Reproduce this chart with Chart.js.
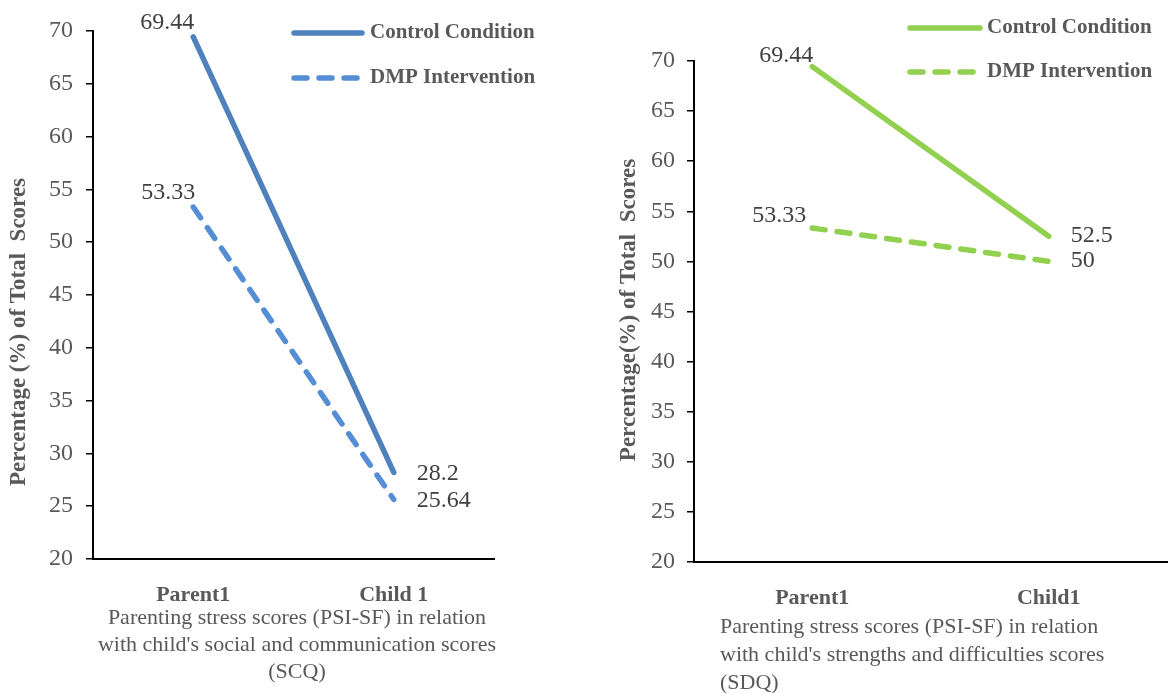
<!DOCTYPE html>
<html>
<head>
<meta charset="utf-8">
<script src="https://cdn.jsdelivr.net/npm/chart.js@4.4.1/dist/chart.umd.min.js"></script>
<style>
    html, body { margin: 0; padding: 0; background: #fff; }
    #wrap { position: relative; width: 1168px; height: 693px; overflow: hidden; }
    canvas { position: absolute; top: 0; }
    #scqChart { left: 0; }
    #sdqChart { left: 600px; }
</style>
</head>
<body>
<div id="wrap">
    <canvas id="scqChart" width="560" height="693"></canvas>
    <canvas id="sdqChart" width="568" height="693"></canvas>
</div>
<script>
// --- Data ---
const scqCategories = ['Parent1', 'Child 1'];
const scqControl = [69.44, 28.2];
const scqDmp = [53.33, 25.64];

const sdqCategories = ['Parent1', 'Child1'];
const sdqControl = [69.44, 52.5];
const sdqDmp = [53.33, 50];

const seriesLabels = ['Control Condition', 'DMP Intervention'];
const yTicks = [20, 25, 30, 35, 40, 45, 50, 55, 60, 65, 70];

const SERIF = "'Liberation Serif', 'Times New Roman', serif";
const GREY = '#595959';

// --- Plugins ---

// draws the value next to each point, offsets come from options
const valueLabels = {
    id: 'valueLabels',
    afterDatasetsDraw(chart, args, opts) {
        const ctx = chart.ctx;
        ctx.save();
        ctx.font = `24px ${SERIF}`;
        ctx.fillStyle = '#404040';
        ctx.textBaseline = 'middle';
        chart.data.datasets.forEach((ds, di) => {
            const meta = chart.getDatasetMeta(di);
            meta.data.forEach((pt, i) => {
                const o = opts.offsets[di][i];
                ctx.textAlign = o[2];
                ctx.fillText(String(ds.data[i]), pt.x + o[0], pt.y + o[1]);
            });
        });
        ctx.restore();
    }
};

// legend drawn inside the plot like the original
const floatLegend = {
    id: 'floatLegend',
    afterDraw(chart, args, opts) {
        const ctx = chart.ctx;
        ctx.save();
        chart.data.datasets.forEach((ds, i) => {
            const y = opts.rows[i];
            ctx.strokeStyle = ds.borderColor;
            ctx.lineWidth = ds.borderWidth;
            ctx.lineCap = 'round';
            ctx.setLineDash(ds.borderDash || []);
            ctx.beginPath();
            ctx.moveTo(opts.x0, y);
            ctx.lineTo(opts.x1, y);
            ctx.stroke();
            ctx.setLineDash([]);
            ctx.font = `bold 21px ${SERIF}`;
            ctx.fillStyle = GREY;
            ctx.textAlign = 'left';
            ctx.textBaseline = 'middle';
            ctx.fillText(ds.label, opts.textX, y);
        });
        ctx.restore();
    }
};

// axis titles / captions
const panelText = {
    id: 'panelText',
    afterDraw(chart, args, opts) {
        const ctx = chart.ctx;
        opts.items.forEach(t => {
            ctx.save();
            ctx.font = t.font;
            ctx.fillStyle = GREY;
            ctx.textAlign = t.align || 'center';
            ctx.textBaseline = 'middle';
            ctx.translate(t.x, t.y);
            if (t.rotate) ctx.rotate(t.rotate);
            t.lines.forEach((line, i) => ctx.fillText(line, 0, i * (t.lineHeight || 0)));
            ctx.restore();
        });
    }
};

function makeDataset(label, data, color, dashed) {
    return {
        label: label,
        data: data,
        borderColor: color,
        backgroundColor: color,
        borderWidth: 5.5,
        borderCapStyle: 'round',
        borderDash: dashed ? [13, 12] : [],
        pointRadius: 0,
        tension: 0,
        fill: false
    };
}

function makeConfig(cfg) {
    return {
        type: 'line',
        data: {
            labels: cfg.categories,
            datasets: [
                makeDataset(seriesLabels[0], cfg.control, cfg.colors[0], false),
                makeDataset(seriesLabels[1], cfg.dmp, cfg.colors[1], true)
            ]
        },
        options: {
            responsive: false,
            animation: false,
            layout: { padding: { top: cfg.top, right: cfg.right, left: 0, bottom: 0 } },
            plugins: {
                legend: { display: false },
                tooltip: { enabled: false },
                valueLabels: { offsets: cfg.labelOffsets },
                floatLegend: cfg.legend,
                panelText: { items: cfg.texts }
            },
            scales: {
                x: {
                    offset: true,
                    grid: { display: false },
                    border: { color: '#000', width: 2 },
                    ticks: { font: { family: SERIF, size: 22, weight: 'bold' }, color: GREY, padding: 15 },
                    afterFit: (scale) => { scale.height = cfg.xHeight; }
                },
                y: {
                    min: 20,
                    max: 70,
                    afterBuildTicks: (scale) => { scale.ticks = yTicks.map(v => ({ value: v })); },
                    grid: { drawOnChartArea: false, drawTicks: true, tickLength: 7, color: '#000', lineWidth: 1.5 },
                    border: { color: '#000', width: 2 },
                    ticks: { font: { family: SERIF, size: 24 }, color: GREY, padding: cfg.tickPad },
                    afterFit: (scale) => { scale.width = cfg.yWidth; }
                }
            }
        },
        plugins: [valueLabels, floatLegend, panelText]
    };
}

// --- Left panel: SCQ ---
new Chart(document.getElementById('scqChart'), makeConfig({
    categories: scqCategories,
    control: scqControl,
    dmp: scqDmp,
    colors: ['#4F81BD', '#558ED5'],
    top: 31, right: 66, yWidth: 93, xHeight: 134, tickPad: 13,
    labelOffsets: [
        [[1, -14, 'right'], [23, 1, 'left']],
        [[2, -14, 'right'], [23, 1, 'left']]
    ],
    legend: { x0: 294, x1: 362, textX: 370, rows: [33, 78] },
    texts: [
        { lines: ['Percentage (%) of Total  Scores'], x: 19, y: 332, rotate: -Math.PI / 2, font: `bold 23px ${SERIF}` },
        { lines: ['Parenting stress scores (PSI-SF) in relation',
                  "with child's social and communication scores",
                  '(SCQ)'], x: 297, y: 618, lineHeight: 27, font: `22px ${SERIF}` }
    ]
}));

// --- Right panel: SDQ ---
new Chart(document.getElementById('sdqChart'), makeConfig({
    categories: sdqCategories,
    control: sdqControl,
    dmp: sdqDmp,
    colors: ['#92D050', '#92D050'],
    top: 61, right: 1, yWidth: 94, xHeight: 131, tickPad: 12,
    labelOffsets: [
        [[1, -11, 'right'], [22, -1, 'left']],
        [[-6, -12, 'right'], [22, -1, 'left']]
    ],
    legend: { x0: 310, x1: 380, textX: 387, rows: [28, 72] },
    texts: [
        { lines: ['Percentage(%) of Total  Scores'], x: 29, y: 310, rotate: -Math.PI / 2, font: `bold 23px ${SERIF}` },
        { lines: ['Parenting stress scores (PSI-SF) in relation',
                  "with child's strengths and difficulties scores",
                  '(SDQ)'], x: 120, y: 627, lineHeight: 28, align: 'left', font: `22px ${SERIF}` }
    ]
}));
</script>
</body>
</html>
